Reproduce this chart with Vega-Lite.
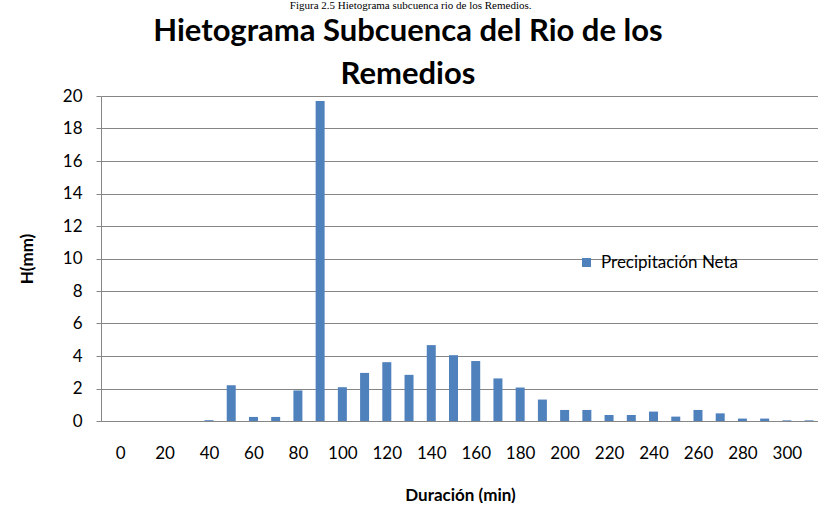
{
  "$schema": "https://vega.github.io/schema/vega-lite/v6.json",
  "background": "white",
  "padding": {"left": 18, "top": 0, "right": 0, "bottom": 0},
  "title": {"text": "Figura 2.5 Hietograma subcuenca rio de los Remedios.", "font": "Liberation Serif", "fontSize": 11, "fontWeight": "normal", "color": "black", "anchor": "middle", "dx": -8, "offset": 5},
  "spacing": 0,
  "vconcat": [
    {
      "title": {"text": ["Hietograma Subcuenca del Rio de los", "Remedios"], "font": "Lato", "fontSize": 31, "fontWeight": "bold", "color": "black", "lineHeight": 43, "anchor": "middle", "dx": -52, "offset": -4},
      "width": 718,
      "height": 325,
      "data": {"values": [
        {"duracion": 0, "H": 0}, {"duracion": 10, "H": 0}, {"duracion": 20, "H": 0}, {"duracion": 30, "H": 0},
        {"duracion": 40, "H": 0.05}, {"duracion": 50, "H": 2.2}, {"duracion": 60, "H": 0.25}, {"duracion": 70, "H": 0.25},
        {"duracion": 80, "H": 1.88}, {"duracion": 90, "H": 19.7}, {"duracion": 100, "H": 2.08}, {"duracion": 110, "H": 2.96},
        {"duracion": 120, "H": 3.62}, {"duracion": 130, "H": 2.84}, {"duracion": 140, "H": 4.67}, {"duracion": 150, "H": 4.05},
        {"duracion": 160, "H": 3.69}, {"duracion": 170, "H": 2.62}, {"duracion": 180, "H": 2.06}, {"duracion": 190, "H": 1.32},
        {"duracion": 200, "H": 0.68}, {"duracion": 210, "H": 0.68}, {"duracion": 220, "H": 0.37}, {"duracion": 230, "H": 0.37},
        {"duracion": 240, "H": 0.58}, {"duracion": 250, "H": 0.27}, {"duracion": 260, "H": 0.68}, {"duracion": 270, "H": 0.47},
        {"duracion": 280, "H": 0.15}, {"duracion": 290, "H": 0.15}, {"duracion": 300, "H": 0.04}, {"duracion": 310, "H": 0.04}
      ]},
      "mark": {"type": "bar", "size": 9, "clip": true},
      "encoding": {
        "x": {
          "field": "duracion", "type": "quantitative",
          "scale": {"domain": [-6.34, 312.2], "nice": false, "zero": false},
          "axis": {"title": "Duración (min)", "values": [0,20,40,60,80,100,120,140,160,180,200,220,240,260,280,300], "ticks": false, "labelPadding": 24, "labelFont": "Lato", "labelFontSize": 17, "labelColor": "black", "labelFlush": false, "labelOverlap": false, "grid": false, "domainColor": "#868686", "titleFont": "Lato", "titleFontSize": 17, "titleFontWeight": "bold", "titleColor": "black", "titlePadding": 26}
        },
        "y": {
          "field": "H", "type": "quantitative",
          "scale": {"domain": [0, 20], "nice": false},
          "axis": {"title": "H(mm)", "values": [0,2,4,6,8,10,12,14,16,18,20], "tickSize": 5, "tickColor": "#868686", "labelPadding": 14, "labelFont": "Lato", "labelFontSize": 17, "labelColor": "black", "domainColor": "#868686", "grid": true, "gridColor": "#868686", "titleFont": "Lato", "titleFontSize": 17, "titleFontWeight": "bold", "titleColor": "black", "titlePadding": 26}
        },
        "color": {
          "datum": "Precipitación Neta",
          "scale": {"range": ["#4F81BD"]},
          "legend": {"title": null, "orient": "none", "legendX": 477, "legendY": 158, "symbolType": "square", "symbolSize": 81, "symbolStrokeWidth": 0, "labelFont": "Lato", "labelFontSize": 17, "labelColor": "black", "labelOffset": 6}
        }
      }
    }
  ],
  "config": {"view": {"stroke": null}}
}
